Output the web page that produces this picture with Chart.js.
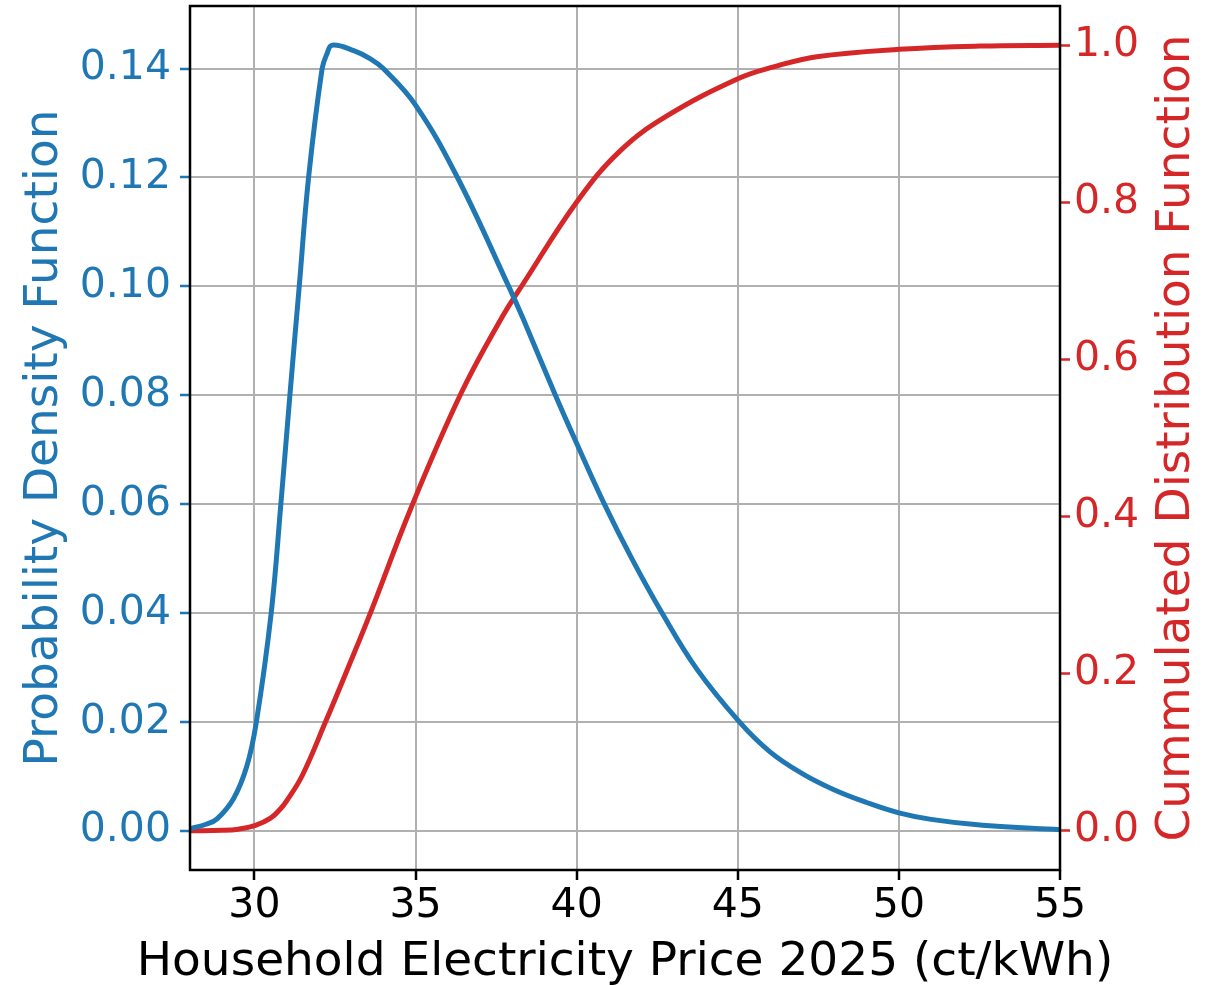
<!DOCTYPE html>
<html>
<head>
<meta charset="utf-8">
<script src="https://cdn.jsdelivr.net/npm/chart.js@4/dist/chart.umd.min.js"></script>
<style>
  body { margin: 0; background: #fff; }
  canvas { display: block; }
</style>
</head>
<body>
<canvas id="priceChart" width="1206" height="985"></canvas>
<script>
// values
const pdfX = [28.0, 28.5, 28.84, 29.35, 29.77, 30.06, 30.52, 30.82, 31.10, 31.39, 31.68, 32.1, 32.25, 32.41,
              33.08, 33.6, 34.0, 35.0, 36.3, 37.89, 38.35, 39.34, 40.05, 40.86, 41.72, 42.65, 43.73,
              45.05, 46.0, 47.0, 48.0, 49.0, 50.0, 51.0, 52.6, 55.0];
const pdfY = [0.0004, 0.0012, 0.0022, 0.0059, 0.012, 0.020, 0.040, 0.060, 0.080, 0.100, 0.120, 0.140, 0.1427, 0.1443,
              0.1433, 0.1418, 0.1400, 0.1333, 0.120, 0.100, 0.0939, 0.080, 0.0705, 0.060, 0.0499, 0.040, 0.0297,
              0.020, 0.0145, 0.0105, 0.0075, 0.0052, 0.0033, 0.0021, 0.0010, 0.0002];

const cdfX = [28.0, 29.0, 29.5, 30.03, 30.5, 30.81, 31.0, 31.48, 32.2, 32.88, 33.6, 34.85, 36.39, 37.63,
              38.35, 40.03, 41.35, 42.8, 45.02, 46.11, 47.45, 50.02, 52.5, 55.0];
const cdfY = [0.0, 0.0005, 0.002, 0.0068, 0.016, 0.028, 0.038, 0.070, 0.138, 0.205, 0.2774, 0.41, 0.555, 0.650,
              0.697, 0.802, 0.8656, 0.91, 0.9576, 0.9724, 0.9855, 0.9949, 0.999, 1.0];

const xTicks = [30, 35, 40, 45, 50, 55];
const pdfTicks = [0.00, 0.02, 0.04, 0.06, 0.08, 0.10, 0.12, 0.14];
const cdfTicks = [0.0, 0.2, 0.4, 0.6, 0.8, 1.0];

const BLUE = '#1f77b4';
const RED = '#d62728';
const GRID = '#b0b0b0';
const FONT = 'DejaVu Sans';

const toPoints = (xs, ys) => xs.map((x, i) => ({ x: x, y: ys[i] }));

// frame around plot, x title and right axis title (reads bottom-to-top like matplotlib)
const framePlugin = {
    id: 'frame',
    afterDatasetsDraw(chart) {
        const { ctx, chartArea: a } = chart;
        ctx.save();
        ctx.strokeStyle = '#000';
        ctx.lineWidth = 2.5;
        ctx.strokeRect(a.left, a.top, a.right - a.left, a.bottom - a.top);
        ctx.restore();
    },
    afterDraw(chart) {
        const { ctx, chartArea: a } = chart;
        ctx.save();
        ctx.fillStyle = '#000';
        ctx.font = '47px "' + FONT + '"';
        ctx.textAlign = 'center';
        ctx.textBaseline = 'alphabetic';
        ctx.fillText('Household Electricity Price 2025 (ct/kWh)', (a.left + a.right) / 2, 975);
        ctx.restore();

        ctx.save();
        ctx.translate(1177, (a.top + a.bottom) / 2);
        ctx.rotate(-Math.PI / 2);
        ctx.fillStyle = RED;
        ctx.font = '47px "' + FONT + '"';
        ctx.textAlign = 'center';
        ctx.textBaseline = 'middle';
        ctx.fillText('Cummulated Distribution Function', 0, 0);
        ctx.restore();
    }
};

const noPad = s => { s.paddingTop = 0; s.paddingBottom = 0; };

new Chart(document.getElementById('priceChart'), {
    type: 'line',
    data: {
        datasets: [{
            label: 'PDF',
            data: toPoints(pdfX, pdfY),
            yAxisID: 'y',
            borderColor: BLUE,
            borderWidth: 5,
            pointRadius: 0,
            tension: 0.4,
            fill: false
        }, {
            label: 'CDF',
            data: toPoints(cdfX, cdfY),
            yAxisID: 'y2',
            borderColor: RED,
            borderWidth: 5,
            pointRadius: 0,
            tension: 0.4,
            fill: false
        }]
    },
    options: {
        responsive: false,
        animation: false,
        layout: { padding: { top: 6, left: 0, right: 0, bottom: 0 } },
        plugins: { legend: { display: false }, tooltip: { enabled: false } },
        scales: {
            x: {
                type: 'linear',
                min: 28, max: 55,
                afterBuildTicks: s => { s.ticks = xTicks.map(v => ({ value: v })); },
                afterFit: s => { s.height = 115; s.paddingLeft = 0; s.paddingRight = 0; },
                grid: { color: GRID, lineWidth: 2, tickColor: '#000', tickWidth: 2.5, tickLength: 10 },
                border: { display: false },
                ticks: {
                    color: '#000', padding: 2, maxRotation: 0, autoSkip: false,
                    font: { family: FONT, size: 41 },
                    callback: v => String(v)
                }
            },
            y: {
                position: 'left',
                min: -0.0072, max: 0.1515,
                afterBuildTicks: s => { s.ticks = pdfTicks.map(v => ({ value: v })); },
                afterFit: s => { s.width = 190; noPad(s); },
                grid: { color: GRID, lineWidth: 2, tickColor: BLUE, tickWidth: 2.5, tickLength: 10 },
                border: { display: false },
                ticks: {
                    color: BLUE, padding: 9, autoSkip: false,
                    font: { family: FONT, size: 41 },
                    callback: v => v.toFixed(2)
                },
                title: {
                    display: true, text: 'Probability Density Function',
                    color: BLUE, font: { family: FONT, size: 47, lineHeight: 1 },
                    padding: { top: 21, bottom: 0 }
                }
            },
            y2: {
                position: 'right',
                min: -0.05, max: 1.05,
                afterBuildTicks: s => { s.ticks = cdfTicks.map(v => ({ value: v })); },
                afterFit: s => { s.width = 146; noPad(s); },
                grid: { drawOnChartArea: false, tickColor: RED, tickWidth: 2.5, tickLength: 10 },
                border: { display: false },
                ticks: {
                    color: RED, padding: 4, autoSkip: false,
                    font: { family: FONT, size: 41 },
                    callback: v => v.toFixed(1)
                }
            }
        }
    },
    plugins: [framePlugin]
});
</script>
</body>
</html>
